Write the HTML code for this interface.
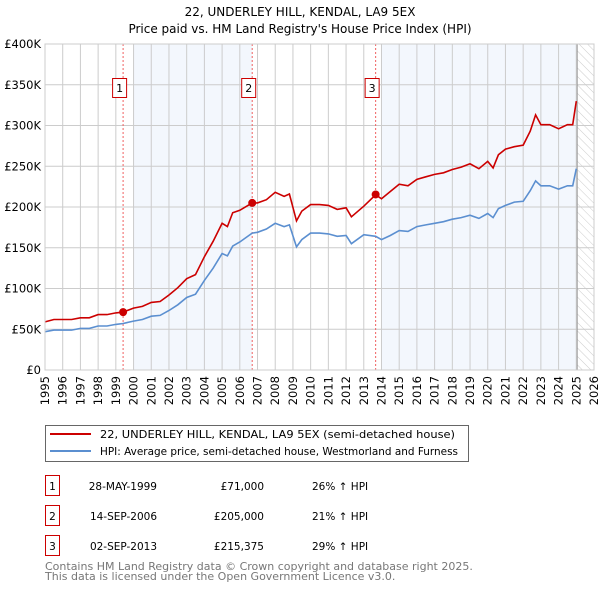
<!DOCTYPE html>
<html><head><meta charset="utf-8"><style>
body{margin:0;background:#fff;font-family:"DejaVu Sans","Liberation Sans",sans-serif;}
svg text{font-family:"DejaVu Sans","Liberation Sans",sans-serif;}
</style></head><body>
<svg id="chart" width="600" height="590" xmlns="http://www.w3.org/2000/svg">
<defs><pattern id="hatch" width="6" height="6" patternUnits="userSpaceOnUse" patternTransform="rotate(-45)"><line x1="0" y1="0" x2="0" y2="6" stroke="#ccc" stroke-width="1"/></pattern></defs>
<text x="300" y="16" text-anchor="middle" font-size="12">22, UNDERLEY HILL, KENDAL, LA9 5EX</text>
<text x="300" y="33" text-anchor="middle" font-size="12">Price paid vs. HM Land Registry's House Price Index (HPI)</text>
<g id="plot"></g>
<g>
<rect x="45.5" y="425.5" width="423" height="36" fill="#fff" stroke="#666"/>
<line x1="50" y1="434" x2="91" y2="434" stroke="#cc0000" stroke-width="2"/>
<text x="100" y="438" font-size="10.5" textLength="355" lengthAdjust="spacingAndGlyphs">22, UNDERLEY HILL, KENDAL, LA9 5EX (semi-detached house)</text>
<line x1="50" y1="451" x2="91" y2="451" stroke="#5b8fd0" stroke-width="2"/>
<text x="100" y="455" font-size="10.5" textLength="358" lengthAdjust="spacingAndGlyphs">HPI: Average price, semi-detached house, Westmorland and Furness</text>
</g>
<g font-size="10.5">
<rect x="45.5" y="475.5" width="14" height="20" fill="none" stroke="#cc0000"/><text x="52.5" y="490" text-anchor="middle">1</text>
<text x="157" y="490" text-anchor="end">28-MAY-1999</text><text x="264" y="490" text-anchor="end">£71,000</text><text x="312" y="490">26% ↑ HPI</text>
<rect x="45.5" y="505.5" width="14" height="20" fill="none" stroke="#cc0000"/><text x="52.5" y="520" text-anchor="middle">2</text>
<text x="157" y="520" text-anchor="end">14-SEP-2006</text><text x="264" y="520" text-anchor="end">£205,000</text><text x="312" y="520">21% ↑ HPI</text>
<rect x="45.5" y="535.5" width="14" height="20" fill="none" stroke="#cc0000"/><text x="52.5" y="550" text-anchor="middle">3</text>
<text x="157" y="550" text-anchor="end">02-SEP-2013</text><text x="264" y="550" text-anchor="end">£215,375</text><text x="312" y="550">29% ↑ HPI</text>
</g>
<text x="45" y="570" font-size="11" fill="#777">Contains HM Land Registry data © Crown copyright and database right 2025.</text>
<text x="45" y="580" font-size="11" fill="#777">This data is licensed under the Open Government Licence v3.0.</text>
</svg>
<script>
const years=[1995,1995.5,1996,1996.5,1997,1997.5,1998,1998.5,1999,1999.41,2000,2000.5,2001,2001.5,2002,2002.5,2003,2003.5,2004,2004.5,2005,2005.3,2005.6,2006,2006.7,2007,2007.5,2008,2008.5,2008.8,2009.2,2009.5,2010,2010.5,2011,2011.5,2012,2012.3,2013,2013.67,2014,2014.5,2015,2015.5,2016,2016.5,2017,2017.5,2018,2018.5,2019,2019.5,2020,2020.3,2020.6,2021,2021.5,2022,2022.4,2022.7,2023,2023.5,2024,2024.5,2024.8,2025];
const hpi=[47,49,49,49,51,51,54,54,56,57,60,62,66,67,73,80,89,93,110,125,143,140,152,157,168,169,173,180,176,178,151,160,168,168,167,164,165,155,166,164,160,165,171,170,176,178,180,182,185,187,190,186,192,187,198,202,206,207,220,232,226,226,222,226,226,247];
const price=[59,62,62,62,64,64,68,68,70,71,76,78,83,84,92,101,112,117,139,158,180,176,193,196,205,205,209,218,213,216,183,195,203,203,202,197,199,188,201,215,210,219,228,226,234,237,240,242,246,249,253,247,256,248,264,271,274,276,293,313,301,301,296,301,301,330];
const yTicks=[0,50,100,150,200,250,300,350,400];
const tickYears=[1995,1996,1997,1998,1999,2000,2001,2002,2003,2004,2005,2006,2007,2008,2009,2010,2011,2012,2013,2014,2015,2016,2017,2018,2019,2020,2021,2022,2023,2024,2025,2026];
const saleYears=[1999.41,2006.7,2013.67];
const saleValues=[71,205,215.375];
const x0=45,x1=594,yTop=44,yBot=370;
const X=y=>x0+(y-1995)*(x1-x0)/31;
const Y=v=>yBot-v*(yBot-yTop)/400;
const ns="http://www.w3.org/2000/svg";
const g=document.getElementById('plot');
function mk(t,a){const e=document.createElementNS(ns,t);for(const k in a)e.setAttribute(k,a[k]);g.appendChild(e);return e;}
let r=mk('rect',{x:x0,y:yTop,width:x1-x0,height:yBot-yTop,fill:'#fff'});


[[2000,2006.7],[2014,2025.05]].forEach(s=>{const e=mk('rect',{x:X(s[0]),y:yTop,width:X(s[1])-X(s[0]),height:yBot-yTop,fill:'#eef3fc',opacity:0.7});

});
let h=mk('rect',{x:X(2025.05),y:yTop,width:x1-X(2025.05),height:yBot-yTop,fill:'url(#hatch)'});


yTicks.forEach(v=>{const l=mk('line',{x1:x0,x2:x1,y1:Y(v),y2:Y(v),stroke:'#ccc'});


const t=mk('text',{x:x0-4,y:Y(v)+4,'text-anchor':'end','font-size':'11.5'});t.textContent=v===0?'£0':'£'+v+'K';

});
tickYears.forEach(yr=>{const l=mk('line',{x1:X(yr),x2:X(yr),y1:yTop,y2:yBot,stroke:'#ccc'});


const t=mk('text',{x:0,y:0,'text-anchor':'end','font-size':'11.5',transform:`translate(${X(yr)+4},${yBot+6}) rotate(-90)`});t.textContent=yr;

});
let vl=mk('line',{x1:X(2025.05),x2:X(2025.05),y1:yTop,y2:yBot,stroke:'#999'});


saleYears.forEach((s,i)=>{const l=mk('line',{x1:X(s),x2:X(s),y1:yTop,y2:yBot,stroke:'#f06060','stroke-dasharray':'2,2'});


const b=mk('rect',{x:X(s)-10.5,y:78.5,width:14,height:19,fill:'#fff',stroke:'#cc0000'});


const t=mk('text',{x:X(s)-3.5,y:92,'text-anchor':'middle','font-size':'11'});t.textContent=i+1;

});
const pth=(arr)=>years.map((y,i)=>(i?'L':'M')+X(y).toFixed(1)+','+Y(arr[i]).toFixed(1)).join('');
let pb=mk('path',{d:pth(hpi),fill:'none',stroke:'#5b8fd0','stroke-width':1.6});


let pr=mk('path',{d:pth(price),fill:'none',stroke:'#cc0000','stroke-width':1.6});


saleYears.forEach((s,i)=>{const c=mk('circle',{cx:X(s),cy:Y(saleValues[i]),r:4,fill:'#cc0000'});

});
let fr=mk('rect',{x:x0,y:yTop,width:x1-x0,height:yBot-yTop,fill:'none',stroke:'#ccc'});


</script>
</body></html>
